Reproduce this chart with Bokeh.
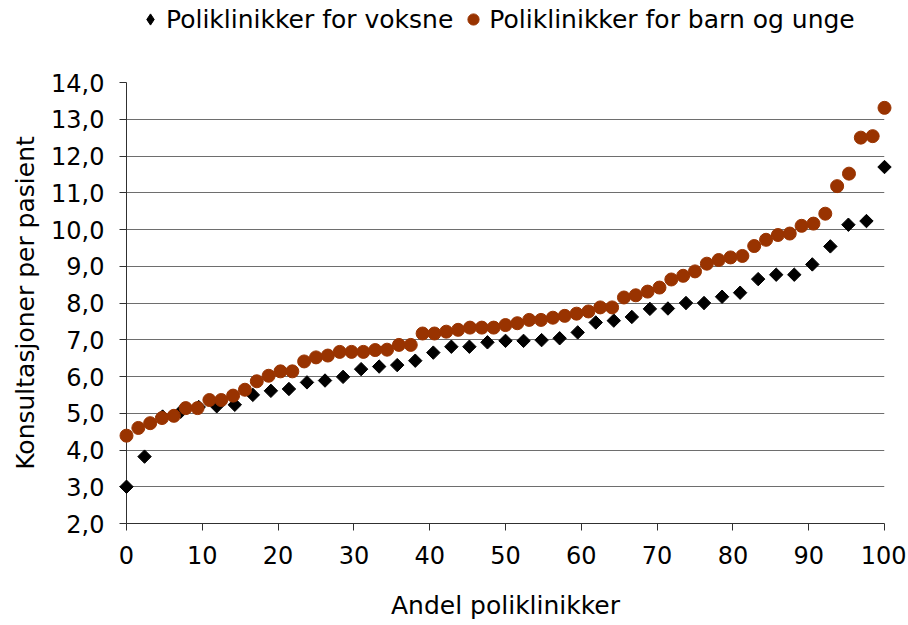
import numpy as np
from bokeh.plotting import figure
from bokeh.layouts import column
from bokeh.models import Range1d, FixedTicker, Legend, LegendItem
from bokeh.embed import file_html
from bokeh.resources import INLINE

# Konsultasjoner per pasient, sortert (poliklinikker for voksne)
voksne = [3.00, 3.82, 4.91, 5.04, 5.17, 5.19, 5.23, 5.50, 5.61, 5.66, 5.84, 5.89,
          5.99, 6.20, 6.27, 6.31, 6.43, 6.65, 6.81, 6.81, 6.93, 6.97, 6.97, 6.99,
          7.04, 7.20, 7.47, 7.52, 7.62, 7.84, 7.85, 8.00, 8.00, 8.17, 8.28, 8.65,
          8.77, 8.77, 9.05, 9.54, 10.13, 10.23, 11.70]
# Konsultasjoner per pasient, sortert (poliklinikker for barn og unge)
barn = [4.39, 4.60, 4.73, 4.87, 4.93, 5.14, 5.14, 5.36, 5.36, 5.48, 5.64, 5.87,
        6.02, 6.14, 6.14, 6.41, 6.52, 6.57, 6.67, 6.67, 6.67, 6.72, 6.73, 6.86,
        6.86, 7.17, 7.17, 7.22, 7.27, 7.33, 7.33, 7.33, 7.40, 7.45, 7.54, 7.54,
        7.60, 7.65, 7.71, 7.77, 7.88, 7.88, 8.15, 8.21, 8.31, 8.42, 8.64, 8.74,
        8.86, 9.07, 9.17, 9.24, 9.28, 9.55, 9.72, 9.85, 9.89, 10.10, 10.16, 10.43,
        11.18, 11.52, 12.50, 12.54, 13.31]

x_ticks = [0, 10, 20, 30, 40, 50, 60, 70, 80, 90, 100]
y_ticks = [2, 3, 4, 5, 6, 7, 8, 9, 10, 11, 12, 13, 14]
y_labels = {t: f"{t},0" for t in y_ticks}

label_v = "Poliklinikker for voksne"
label_b = "Poliklinikker for barn og unge"

# andel poliklinikker (rang i prosent)
x_v = np.linspace(0, 100, len(voksne))
x_b = np.linspace(0, 100, len(barn))

FONT = "DejaVu Sans"
COL_V = "black"
COL_B = "#993300"

# ---------- legend strip (own small figure on top) ----------
leg_fig = figure(width=906, height=40, output_backend="svg", toolbar_location=None,
                 x_range=Range1d(0, 100), y_range=Range1d(2, 14),
                 x_axis_location=None, y_axis_location=None,
                 min_border=0, min_border_left=0, min_border_right=0,
                 min_border_top=0, min_border_bottom=0)
leg_fig.outline_line_color = None
leg_fig.grid.visible = False
lv = leg_fig.scatter(x_v[:1], voksne[:1], marker="diamond", color=COL_V, visible=False)
lb = leg_fig.scatter(x_b[:1], barn[:1], marker="circle", color=COL_B, visible=False)
legend = Legend(items=[LegendItem(label=label_v, renderers=[lv]),
                       LegendItem(label=label_b, renderers=[lb])],
                orientation="horizontal", location=(10, 6))
legend.label_text_font = FONT
legend.label_text_font_size = "25px"
legend.label_text_color = "black"
legend.glyph_width = 28
legend.glyph_height = 30
legend.label_standoff = 2
legend.spacing = 6
legend.padding = 0
legend.margin = 0
legend.border_line_color = None
legend.background_fill_alpha = 0
leg_fig.add_layout(legend)

# ---------- main chart ----------
p = figure(width=906, height=582, output_backend="svg", toolbar_location=None,
           x_range=Range1d(0, 100), y_range=Range1d(2, 14),
           min_border_left=126, min_border_right=22, min_border_top=42,
           min_border_bottom=99, background_fill_color="white",
           border_fill_color="white")
p.outline_line_color = None

p.xgrid.grid_line_color = None
p.ygrid.ticker = FixedTicker(ticks=y_ticks)
p.ygrid.grid_line_color = "#6e6e6e"
p.ygrid.grid_line_width = 1

for ax in (p.xaxis[0], p.yaxis[0]):
    ax.axis_line_color = "#303030"
    ax.major_tick_line_color = "#303030"
    ax.major_tick_out = 7
    ax.major_tick_in = 0
    ax.minor_tick_out = 0
    ax.minor_tick_in = 0
    ax.major_label_text_font = FONT
    ax.major_label_text_font_size = "24px"
    ax.major_label_text_color = "black"
    ax.axis_label_text_font = FONT
    ax.axis_label_text_font_size = "25px"
    ax.axis_label_text_font_style = "normal"
    ax.axis_label_text_color = "black"

p.xaxis.ticker = FixedTicker(ticks=x_ticks)
p.yaxis.ticker = FixedTicker(ticks=y_ticks)
p.yaxis.major_label_overrides = y_labels
p.xaxis.axis_label = "Andel poliklinikker"
p.yaxis.axis_label = "Konsultasjoner per pasient"
p.xaxis.major_label_standoff = 15
p.yaxis.major_label_standoff = 15
p.xaxis.axis_label_standoff = 24
p.yaxis.axis_label_standoff = 8

p.scatter(x_v, voksne, marker="square", size=9.5, angle=np.pi / 4,
          color=COL_V, level="overlay")
p.scatter(x_b, barn, marker="circle", size=13, color=COL_B, level="overlay")

layout = column(leg_fig, p, spacing=0)
open("out.html", "w").write(file_html(layout, INLINE))
